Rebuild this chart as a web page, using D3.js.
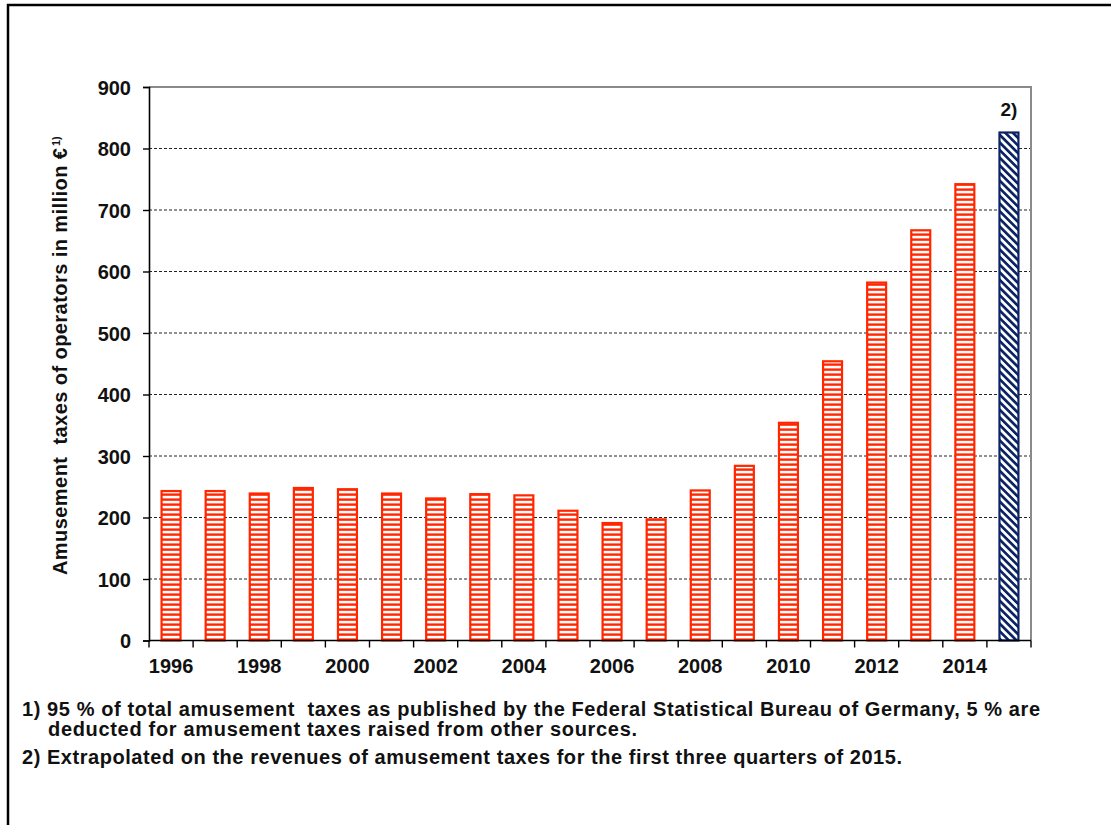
<!DOCTYPE html>
<html><head><meta charset="utf-8">
<script src="https://cdn.jsdelivr.net/npm/d3@7"></script>
<style>
html,body{margin:0;padding:0;background:#fff;}
svg text{font-family:"Liberation Sans",Arial,sans-serif;font-weight:bold;fill:#111;}
</style></head>
<body>
<svg id="chart" width="1111" height="825"></svg>
<script>
const years = [1996,1997,1998,1999,2000,2001,2002,2003,2004,2005,2006,2007,2008,2009,2010,2011,2012,2013,2014,2015];
const values = [243,243,239,248,246,239,231,238,236,211,191,197,244,284,354,454,582,667,742,826];
const extrapolated = [2015];
const yTicks = [0,100,200,300,400,500,600,700,800,900];
const xLabelYears = [1996,1998,2000,2002,2004,2006,2008,2010,2012,2014];
const yLabel = "Amusement  taxes of operators in million €";
const footnotes = [
  "1) 95 % of total amusement  taxes as published by the Federal Statistical Bureau of Germany, 5 % are",
  "deducted for amusement taxes raised from other sources.",
  "2) Extrapolated on the revenues of amusement taxes for the first three quarters of 2015."
];

const svg = d3.select("#chart");
const L = 149, R = 1031, T = 87, B = 640.5;

// outer frame
svg.append("rect").attr("x",8).attr("y",5).attr("width",1300).attr("height",1000)
  .attr("fill","none").attr("stroke","#000").attr("stroke-width",2.5);

// patterns
const defs = svg.append("defs");
const pr = defs.append("pattern").attr("id","redH").attr("patternUnits","userSpaceOnUse")
  .attr("width",10).attr("height",5);
pr.append("rect").attr("width",10).attr("height",5).attr("fill","#ff2600");
pr.append("rect").attr("y",0.8).attr("width",10).attr("height",2.6).attr("fill","#fff");

const pb = defs.append("pattern").attr("id","blueD").attr("patternUnits","userSpaceOnUse")
  .attr("width",5.4).attr("height",10).attr("patternTransform","rotate(-45)");
pb.append("rect").attr("width",5.4).attr("height",10).attr("fill","#fff");
pb.append("rect").attr("width",2.7).attr("height",10).attr("fill","#0c2466");

const x = d3.scaleBand().domain(years).range([L,R]).paddingInner(0.57).paddingOuter(0.285);
const y = d3.scaleLinear().domain([0,900]).range([B,T]);

// gridlines
svg.append("g").selectAll("line").data(yTicks.filter(t=>t>0 && t<900)).join("line")
  .attr("x1",L).attr("x2",R).attr("y1",d=>y(d)).attr("y2",d=>y(d))
  .attr("stroke","#222").attr("stroke-width",1).attr("stroke-dasharray","3,2");

// top & right frame (gray)
svg.append("path").attr("d",`M${L},${y(900)}H${R}V${B}`).attr("fill","none")
  .attr("stroke","#8a8a8a").attr("stroke-width",2);

// bars
svg.append("g").selectAll("rect").data(years).join("rect")
  .attr("x",d=>x(d)).attr("width",x.bandwidth())
  .attr("y",(d,i)=>y(values[i])).attr("height",(d,i)=>y(0)-y(values[i]))
  .attr("fill",d=>extrapolated.includes(d)?"url(#blueD)":"url(#redH)")
  .attr("stroke",d=>extrapolated.includes(d)?"#0c2466":"#ff2600")
  .attr("stroke-width",2.2);

// y axis
const yAxis = svg.append("g").attr("transform",`translate(${L},0)`)
  .call(d3.axisLeft(y).tickValues(yTicks).tickSize(6).tickPadding(12).tickFormat(d3.format("d")));
yAxis.select(".domain").attr("stroke","#000").attr("stroke-width",1.6);
yAxis.selectAll(".tick line").attr("stroke","#000").attr("stroke-width",1.4);
yAxis.selectAll(".tick text").style("font-size","20px").style("font-family",null).attr("dy","0.36em");

// x axis boundary ticks
const step = x.step();
const bounds = years.map(d => x(d) + x.bandwidth()/2 - step/2).concat([x(years[years.length-1]) + x.bandwidth()/2 + step/2]);
svg.append("g").selectAll("line").data(bounds).join("line")
  .attr("x1",d=>d).attr("x2",d=>d).attr("y1",B).attr("y2",B+7)
  .attr("stroke","#000").attr("stroke-width",1.4);
svg.append("line").attr("x1",L).attr("x2",R).attr("y1",B).attr("y2",B)
  .attr("stroke","#000").attr("stroke-width",1.6);
svg.append("g").selectAll("text").data(xLabelYears).join("text")
  .attr("x",d=>x(d)+x.bandwidth()/2).attr("y",B+32)
  .attr("text-anchor","middle").style("font-size","20px").text(d=>d);

// "2)" label
svg.append("text").attr("x",x(2015)+x.bandwidth()/2).attr("y",y(values[19])-17)
  .attr("text-anchor","middle").style("font-size","19px").text("2)");

// y label
const ylBottom = 575, ylLen = 427;
svg.append("text").attr("transform",`translate(67,${ylBottom}) rotate(-90)`)
  .attr("text-anchor","start").style("font-size","20px").style("white-space","pre")
  .attr("textLength",ylLen).attr("lengthAdjust","spacing").text(yLabel);
svg.append("text").attr("transform",`translate(60,${ylBottom-ylLen-2}) rotate(-90)`)
  .attr("text-anchor","start").style("font-size","11px").text("1)");

// footnotes
const fn = svg.append("g").style("font-size","20px");
fn.append("text").attr("x",22).attr("y",716).style("white-space","pre")
  .attr("textLength",1018).attr("lengthAdjust","spacing").text(footnotes[0]);
fn.append("text").attr("x",48).attr("y",736).style("white-space","pre")
  .attr("textLength",589).attr("lengthAdjust","spacing").text(footnotes[1]);
fn.append("text").attr("x",22).attr("y",764).style("white-space","pre")
  .attr("textLength",880).attr("lengthAdjust","spacing").text(footnotes[2]);
</script>
</body></html>
